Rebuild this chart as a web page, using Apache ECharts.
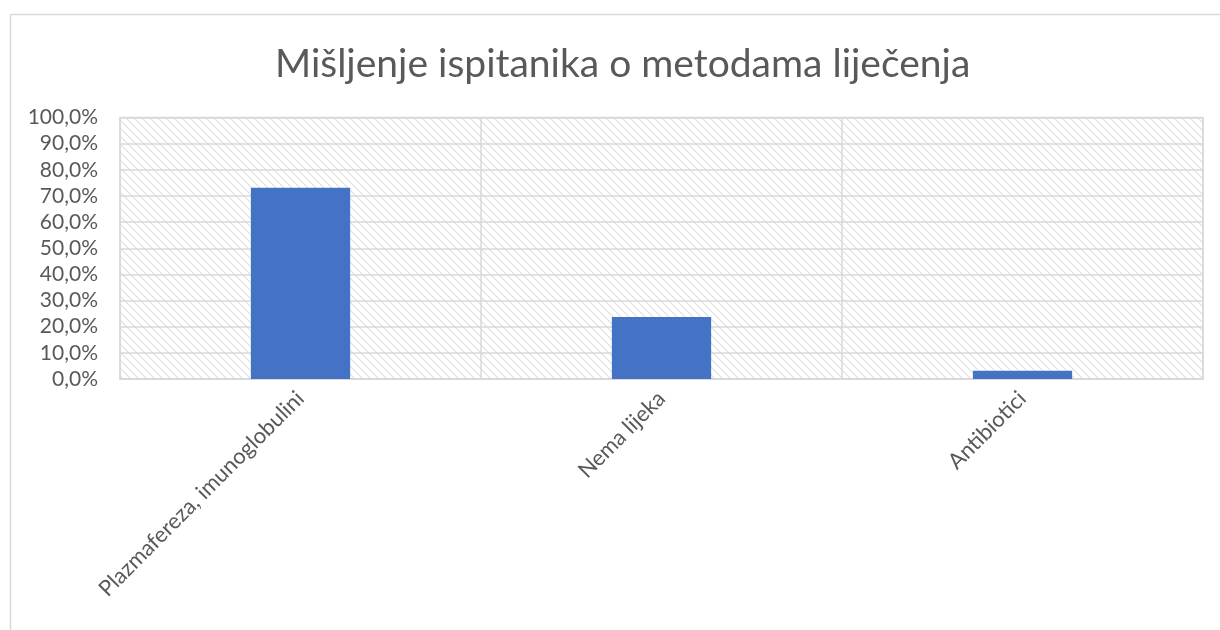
<!DOCTYPE html>
<html>
<head>
<meta charset="utf-8">
<script src="https://cdn.jsdelivr.net/npm/echarts@6/dist/echarts.min.js"></script>
<style>
html,body{margin:0;padding:0;background:#fff;}
#chart{width:1220px;height:630px;}
</style>
</head>
<body>
<div id="chart"></div>
<script>
const categories = ['Plazmafereza, imunoglobulini', 'Nema lijeka', 'Antibiotici'];
const values = [73.1, 23.7, 3.2];
const yTicks = [0, 10, 20, 30, 40, 50, 60, 70, 80, 90, 100];

function makeHatch() {
  const c = document.createElement('canvas');
  const s = 8;
  c.width = s; c.height = s;
  const ctx = c.getContext('2d');
  ctx.fillStyle = '#ffffff';
  ctx.fillRect(0, 0, s, s);
  ctx.strokeStyle = '#dedede';
  ctx.lineWidth = 1.1;
  ctx.beginPath();
  ctx.moveTo(-1, -1); ctx.lineTo(s + 1, s + 1);
  ctx.moveTo(-1 - s, -1); ctx.lineTo(1, s + 1);
  ctx.moveTo(s - 1, -1); ctx.lineTo(2 * s + 1, s + 1);
  ctx.stroke();
  return c;
}

const chart = echarts.init(document.getElementById('chart'), null, {renderer: 'canvas'});
const font = 'Lato';
chart.setOption({
  animation: false,
  textStyle: {fontFamily: font},
  graphic: [{
    type: 'rect', left: 8, top: 12, z: -10,
    shape: {width: 1230, height: 640},
    style: {fill: 'none', stroke: '#d9d9d9', lineWidth: 1.5}
  }],
  title: {
    text: 'Mišljenje ispitanika o metodama liječenja',
    left: 270, top: 40,
    textStyle: {fontFamily: font, fontSize: 39, fontWeight: 'normal', color: '#595959'}
  },
  grid: {
    left: 120, right: 17, top: 117.5, bottom: 251,
    show: true,
    backgroundColor: {image: makeHatch(), repeat: 'repeat'},
    borderColor: '#d9d9d9', borderWidth: 1.5
  },
  xAxis: {
    type: 'category',
    data: categories,
    axisLine: {show: true, lineStyle: {color: '#d9d9d9', width: 1.5}},
    axisTick: {show: false},
    splitLine: {show: true, lineStyle: {color: '#d9d9d9', width: 1.5}},
    axisLabel: {rotate: 45, fontSize: 22, color: '#595959', margin: 16, fontFamily: font}
  },
  yAxis: {
    type: 'value',
    min: 0, max: 100, interval: 10,
    axisLine: {show: false},
    axisTick: {show: false},
    splitLine: {show: true, lineStyle: {color: '#d9d9d9', width: 1.5}},
    axisLabel: {
      fontSize: 21, color: '#595959', margin: 22, fontFamily: font,
      formatter: v => yTicks.includes(v) ? v.toFixed(1).replace('.', ',') + '%' : ''
    }
  },
  series: [{
    type: 'bar',
    data: values,
    barWidth: '27.5%',
    itemStyle: {color: '#4472c4'}
  }]
});
</script>
</body>
</html>
